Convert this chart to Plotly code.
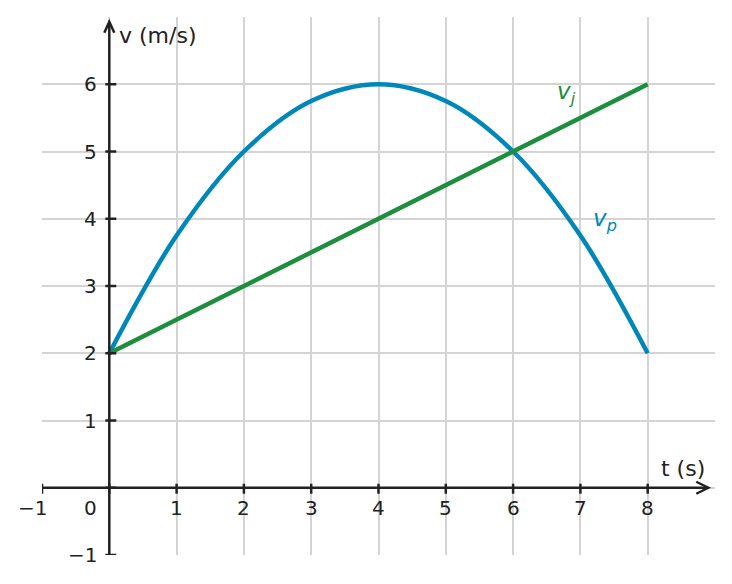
import plotly.graph_objects as go

# values
t_vals = [0, 1, 2, 3, 4, 5, 6, 7, 8]
v_p = [2, 3.75, 5, 5.75, 6, 5.75, 5, 3.75, 2]
t_j = [0, 8]
v_j = [2, 6]

x_ticks = [-1, 0, 1, 2, 3, 4, 5, 6, 7, 8]
y_ticks = [-1, 0, 1, 2, 3, 4, 5, 6]
x_labels = ["−1", "0", "1", "2", "3", "4", "5", "6", "7", "8"]
y_labels = ["−1", "", "1", "2", "3", "4", "5", "6"]

BLUE = "#0087b9"
GREEN = "#1c8e3e"
AXIS = "#222222"
FONT = "DejaVu Sans"

fig = go.Figure()

fig.add_trace(go.Scatter(x=t_vals, y=v_p, mode="lines", line_shape="spline",
                         line=dict(color=BLUE, width=4.5), showlegend=False))
fig.add_trace(go.Scatter(x=t_j, y=v_j, mode="lines",
                         line=dict(color=GREEN, width=4.5), showlegend=False))

shapes = []
# axes
shapes.append(dict(type="line", x0=-1, x1=8.9, y0=0, y1=0, xref="x", yref="y",
                   line=dict(color=AXIS, width=2.5)))
shapes.append(dict(type="line", x0=0, x1=0, y0=-1, y1=6.93, xref="x", yref="y",
                   line=dict(color=AXIS, width=2.5)))
# arrow heads
shapes.append(dict(type="path", xref="x", yref="y", xsizemode="pixel", ysizemode="pixel",
                   xanchor=8.9, yanchor=0, path="M-12,-6 L0,0 L-12,6",
                   line=dict(color=AXIS, width=2.5)))
shapes.append(dict(type="path", xref="x", yref="y", xsizemode="pixel", ysizemode="pixel",
                   xanchor=0, yanchor=6.93, path="M-5,-11 L0,0 L5,-11",
                   line=dict(color=AXIS, width=2.5)))
# tick marks
for xv in x_ticks:
    shapes.append(dict(type="line", xref="x", yref="y", ysizemode="pixel", yanchor=0,
                       x0=xv, x1=xv, y0=-6, y1=4, line=dict(color=AXIS, width=2.5)))
for yv in y_ticks:
    shapes.append(dict(type="line", xref="x", yref="y", xsizemode="pixel", xanchor=0,
                       x0=-4, x1=7, y0=yv, y1=yv, line=dict(color=AXIS, width=2.5)))

annotations = []
for xv, lab in zip(x_ticks, x_labels):
    if xv == 0:
        annotations.append(dict(x=xv, y=0, text=lab, showarrow=False, xanchor="right",
                                xshift=-10, yshift=-20))
    elif xv == -1:
        annotations.append(dict(x=xv, y=0, text=lab, showarrow=False, xanchor="center",
                                xshift=-10, yshift=-20))
    else:
        annotations.append(dict(x=xv, y=0, text=lab, showarrow=False, xanchor="center",
                                yshift=-20))
for yv, lab in zip(y_ticks, y_labels):
    if lab:
        annotations.append(dict(x=0, y=yv, text=lab, showarrow=False, xanchor="right",
                                xshift=-10))

annotations.append(dict(x=0, y=6.72, text="v (m/s)", showarrow=False, xanchor="left",
                        xshift=8, font=dict(size=22)))
annotations.append(dict(x=8.52, y=0.29, text="t (s)", showarrow=False,
                        font=dict(size=22)))
annotations.append(dict(x=6.79, y=5.87, text="<i>v<sub>j</sub></i>", showarrow=False,
                        font=dict(size=23, color=GREEN)))
annotations.append(dict(x=7.37, y=3.98, text="<i>v<sub>p</sub></i>", showarrow=False,
                        font=dict(size=23, color=BLUE)))

# the page body adds 8px at left and top, so the figure is a bit smaller
fig.update_layout(
    width=724, height=576,
    margin=dict(l=34, r=17, t=9, b=29),
    paper_bgcolor="white", plot_bgcolor="white",
    font=dict(family=FONT, size=20, color=AXIS),
    shapes=shapes, annotations=annotations,
    showlegend=False,
)
fig.update_xaxes(range=[-1, 9], tickvals=x_ticks, showticklabels=False, showgrid=True,
                 gridcolor="#d4d4d4", gridwidth=1.5, zeroline=False, showline=False,
                 fixedrange=True)
fig.update_yaxes(range=[-1, 7], tickvals=y_ticks, showticklabels=False, showgrid=True,
                 gridcolor="#d4d4d4", gridwidth=1.5, zeroline=False, showline=False,
                 fixedrange=True)

fig.write_html("out.html")
